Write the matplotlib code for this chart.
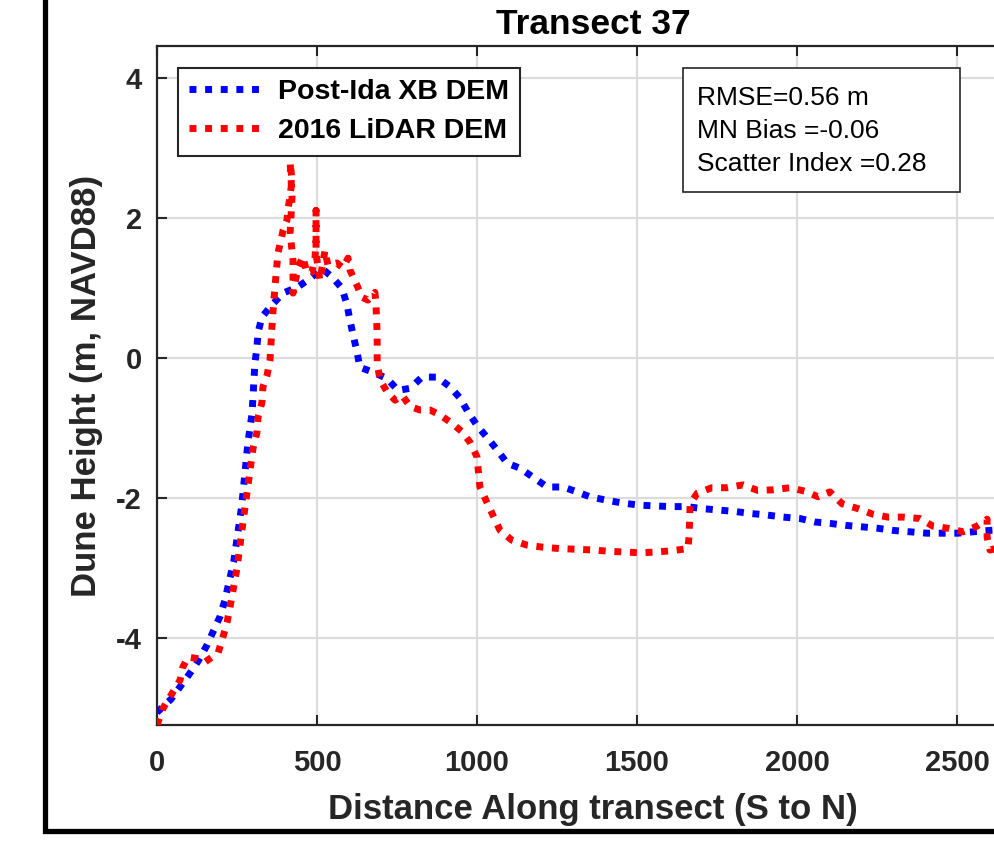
import matplotlib
matplotlib.use("Agg")
import matplotlib.pyplot as plt
from matplotlib.lines import Line2D
from matplotlib.patches import Rectangle

plt.rcParams['font.family'] = ['Liberation Sans', 'DejaVu Sans']
plt.rcParams['axes.unicode_minus'] = False

# ---------------- data ----------------
xb_x = [0, 44, 103, 131, 156, 175, 197, 212, 240, 265, 284, 297, 300, 306, 312, 316, 328,
        359, 394, 441, 478, 516, 547, 578, 594, 603, 613, 625, 634, 675, 719, 753, 791,
        828, 875, 916, 947, 972, 1000, 1031, 1063, 1094, 1134, 1175, 1219, 1269, 1313,
        1353, 1406, 1456, 1509, 1556, 1603, 1656, 1706, 1759, 1806, 1859, 1906, 1956,
        2009, 2056, 2103, 2156, 2206, 2253, 2300, 2353, 2406, 2456, 2503, 2550, 2603, 2650]
xb_y = [-5.06, -4.87, -4.50, -4.31, -4.10, -3.91, -3.69, -3.46, -2.90, -2.10, -1.21, -0.79,
        -0.55, -0.07, 0.14, 0.37, 0.59, 0.76, 0.93, 1.02, 1.14, 1.28, 1.16, 1.00, 0.76,
        0.54, 0.33, 0.09, -0.13, -0.20, -0.29, -0.46, -0.43, -0.27, -0.27, -0.41, -0.57,
        -0.77, -0.96, -1.13, -1.31, -1.50, -1.57, -1.70, -1.84, -1.84, -1.91, -1.98,
        -2.03, -2.07, -2.10, -2.11, -2.12, -2.12, -2.15, -2.17, -2.19, -2.22, -2.24,
        -2.27, -2.29, -2.34, -2.36, -2.39, -2.41, -2.43, -2.46, -2.48, -2.50, -2.50,
        -2.50, -2.48, -2.46, -2.45]

lidar_x = [0, 19, 47, 72, 81, 97, 125, 150, 191, 203, 212, 219, 228, 250, 270, 300, 312,
           316, 328, 331, 344, 353, 356, 359, 362, 369, 378, 391, 394, 406, 409, 416, 422,
           416, 422, 416, 425, 425, 425, 441, 456, 469, 484, 494, 497, 497, 497, 509, 525,
           534, 562, 581, 597, 603, 625, 641, 659, 681, 684, 688, 688, 697, 719, 744, 766,
           791, 822, 853, 884, 922, 953, 978, 1000, 1009, 1031, 1072, 1109, 1156, 1206,
           1259, 1313, 1363, 1416, 1469, 1509, 1556, 1609, 1659, 1663, 1666, 1688, 1734,
           1781, 1831, 1878, 1925, 1978, 2025, 2066, 2103, 2141, 2191, 2238, 2284, 2331,
           2384, 2425, 2472, 2519, 2562, 2594, 2594, 2603, 2640]
lidar_y = [-5.24, -5.00, -4.79, -4.60, -4.41, -4.27, -4.29, -4.34, -4.21, -4.03, -3.89,
           -3.77, -3.56, -3.00, -2.30, -1.29, -1.07, -0.84, -0.63, -0.41, -0.24, -0.03,
           0.19, 0.43, 0.64, 1.04, 1.50, 1.76, 1.83, 1.97, 2.11, 2.33, 2.54, 2.80, 2.30,
           1.79, 1.40, 1.16, 0.93, 1.30, 1.45, 1.21, 1.23, 1.45, 1.69, 2.11, 1.50, 1.11,
           1.54, 1.33, 1.36, 1.29, 1.43, 1.26, 1.04, 0.87, 0.83, 0.94, 0.79, 0.36, -0.07,
           -0.31, -0.48, -0.60, -0.53, -0.69, -0.74, -0.74, -0.81, -0.93, -1.05, -1.20,
           -1.41, -1.84, -2.06, -2.46, -2.60, -2.67, -2.70, -2.72, -2.73, -2.74, -2.76,
           -2.77, -2.78, -2.77, -2.75, -2.72, -2.53, -2.08, -1.93, -1.85, -1.85, -1.81,
           -1.89, -1.88, -1.85, -1.90, -1.98, -1.91, -2.08, -2.15, -2.23, -2.27, -2.27,
           -2.29, -2.40, -2.43, -2.48, -2.40, -2.30, -2.55, -2.74, -2.70]

series_labels = ["Post-Ida XB DEM", "2016 LiDAR DEM"]
xticks = [0, 500, 1000, 1500, 2000, 2500]
yticks = [-4, -2, 0, 2, 4]
stats_lines = ["RMSE=0.56 m", "MN Bias =-0.06", "Scatter Index =0.28"]

# ---------------- layout ----------------
W, H = 995, 849
fig = plt.figure(figsize=(W / 100, H / 100), dpi=100)
fig.patch.set_facecolor('white')

ax_l, ax_r, ax_t, ax_b = 157, 1029, 46, 725
ax = fig.add_axes([ax_l / W, 1 - ax_b / H, (ax_r - ax_l) / W, (ax_b - ax_t) / H])

dark = '#262626'
ls = (0, (1.0, 1.25))
ax.plot(xb_x, xb_y, color='#0000ff', lw=5, linestyle=ls, dash_capstyle='butt',
        label=series_labels[0], zorder=3)
ax.plot(lidar_x, lidar_y, color='#ff0000', lw=5, linestyle=ls, dash_capstyle='butt',
        label=series_labels[1], zorder=4)

ax.set_xticks(xticks)
ax.set_yticks(yticks)
ax.set_xlim(0, 2725)
ax.set_ylim(-5.24, 4.46)
ax.grid(True, color='#dcdcdc', lw=1.6)
ax.set_axisbelow(True)
ax.tick_params(direction='in', length=7, width=1.5, colors=dark, labelsize=21,
               top=True, right=True)
ax.tick_params(axis='x', pad=17)
ax.tick_params(axis='y', pad=11)
for lab in ax.get_xticklabels() + ax.get_yticklabels():
    lab.set_fontweight('bold')
for sp in ax.spines.values():
    sp.set_color(dark)
    sp.set_linewidth(1.6)

ax.set_xlabel("Distance Along transect (S to N)", fontsize=25, fontweight='bold',
              color=dark, labelpad=12)
ax.set_ylabel("Dune Height (m, NAVD88)", fontsize=25, fontweight='bold',
              color=dark, labelpad=9)
ax.set_title("Transect 37", fontsize=25.5, fontweight='bold', color='black', pad=9)

leg = ax.legend(loc='upper left',
                bbox_to_anchor=((178 - ax_l) / (ax_r - ax_l), (ax_b - 68) / (ax_b - ax_t)),
                borderaxespad=0, fancybox=False, framealpha=1, edgecolor=dark,
                prop={'weight': 'bold', 'size': 20.5}, handlelength=2.55,
                handletextpad=0.55, borderpad=0.4, labelspacing=0.45)
leg.get_frame().set_linewidth(1.5)

# statistics box
fig.add_artist(Rectangle((683 / W, 1 - 192 / H), (960 - 683) / W, (192 - 68) / H,
                         transform=fig.transFigure, fill=True, facecolor='white',
                         edgecolor=dark, lw=1.2, zorder=5))
for i, t in enumerate(stats_lines):
    fig.text(697 / W, 1 - (98 + 33 * i) / H, t, fontsize=19, color='black',
             va='center', ha='left', zorder=6)

# figure frame (cropped)
fig.add_artist(Line2D([45.5 / W, 45.5 / W, 1.2], [1.2, 1 - 830.5 / H, 1 - 830.5 / H],
                      transform=fig.transFigure, color='black', lw=3.8,
                      solid_joinstyle='miter'))

fig.savefig("out.png", dpi=100)
